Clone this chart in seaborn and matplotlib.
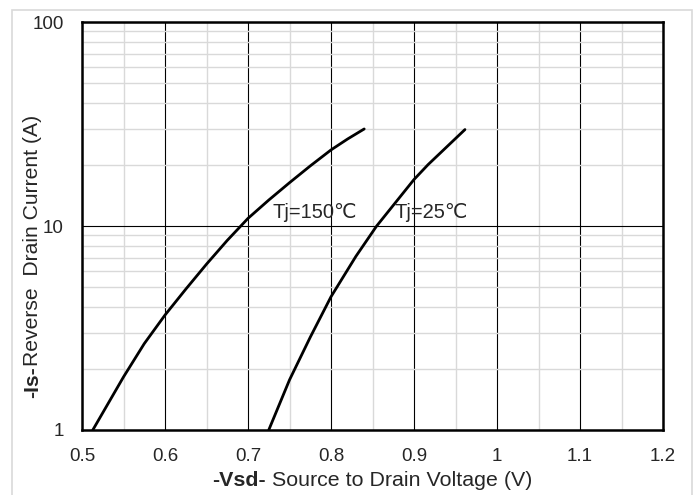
import matplotlib
matplotlib.use("Agg")
import matplotlib.pyplot as plt
import matplotlib.ticker as mticker
from matplotlib.patches import Rectangle
import seaborn as sns
import pandas as pd

# Dados
vsd_150 = [0.513, 0.55, 0.575, 0.60, 0.625, 0.65, 0.675, 0.70, 0.725, 0.75,
           0.775, 0.80, 0.82, 0.84]
is_150 = [1.0, 1.82, 2.65, 3.66, 4.9, 6.5, 8.5, 10.9, 13.4, 16.3,
          19.7, 23.6, 26.7, 29.9]
vsd_25 = [0.725, 0.75, 0.775, 0.80, 0.83, 0.855, 0.90, 0.917, 0.9614]
is_25 = [1.0, 1.76, 2.85, 4.5, 7.1, 10.0, 16.9, 20.0, 29.7]

curvas = [("Tj=150℃", vsd_150, is_150, (0.730, 11.7)),
          ("Tj=25℃", vsd_25, is_25, (0.877, 11.7))]

x_ticks = [0.5, 0.6, 0.7, 0.8, 0.9, 1.0, 1.1, 1.2]
x_labels = ["0.5", "0.6", "0.7", "0.8", "0.9", "1", "1.1", "1.2"]
y_ticks = [1, 10, 100]
y_labels = ["1", "10", "100"]

sns.set_style("white")
plt.rcParams['font.family'] = ['Liberation Sans', 'DejaVu Sans']

W, H = 697, 495
fig = plt.figure(figsize=(W / 100, H / 100), dpi=100)
ax = fig.add_axes([82 / W, 1 - 430 / H, (663 - 82) / W, (430 - 22) / H])

# borda externa cinza
fig.patches.append(Rectangle((12 / W, -0.05), (692 - 12) / W, 1 - 10 / H + 0.05,
                             transform=fig.transFigure, fill=False,
                             edgecolor='#d9d9d9', linewidth=1.2, zorder=-1))

frames = []
for nome, xs, ys, _ in curvas:
    frames.append(pd.DataFrame({'Vsd': xs, 'Is': ys, 'Curva': nome}))
df = pd.concat(frames, ignore_index=True)

sns.lineplot(data=df, x='Vsd', y='Is', units='Curva', estimator=None, sort=False,
             color='black', linewidth=2.0, ax=ax, legend=False)

ax.set_yscale('log')
ax.set_xlim(0.5, 1.2)
ax.set_ylim(1, 100)
ax.set_xlabel('')
ax.set_ylabel('')

ax.set_xticks(x_ticks)
ax.set_xticklabels(x_labels)
ax.xaxis.set_minor_locator(mticker.MultipleLocator(0.05))
ax.set_yticks(y_ticks)
ax.set_yticklabels(y_labels)
ax.yaxis.set_minor_locator(mticker.LogLocator(base=10, subs=range(2, 10)))
ax.yaxis.set_minor_formatter(mticker.NullFormatter())

ax.grid(which='minor', color='#d9d9d9', linewidth=1.0, zorder=0)
ax.grid(which='major', color='black', linewidth=0.8, zorder=1)
ax.set_axisbelow(True)
ax.tick_params(which='both', length=0)
ax.tick_params(axis='x', labelsize=13.5, pad=13)
ax.tick_params(axis='y', labelsize=13.5, pad=13)

for s in ax.spines.values():
    s.set_color('black')
    s.set_linewidth(1.8)
    s.set_visible(True)

for nome, _, _, pos in curvas:
    ax.text(pos[0], pos[1], nome, fontsize=14.5, va='center', ha='left',
            family=['Liberation Sans', 'DejaVu Sans'])

# rótulos dos eixos com parte em negrito
t1 = fig.text(212 / W, 1 - 480 / H, "-Vsd-", fontsize=15.4, fontweight='bold',
              ha='left', va='center')
ax.annotate(" Source to Drain Voltage (V)", xy=(1, 0), xycoords=t1,
            ha='left', va='bottom', fontsize=15.4, annotation_clip=False)

t2 = fig.text(33 / W, 1 - 398 / H, "-Is-", fontsize=15.2, fontweight='bold',
              rotation=90, ha='center', va='bottom')
ax.annotate("Reverse  Drain Current (A)", xy=(0, 1), xycoords=t2,
            ha='left', va='bottom', rotation=90, fontsize=15.2,
            annotation_clip=False)

fig.savefig("out.png", dpi=100)
